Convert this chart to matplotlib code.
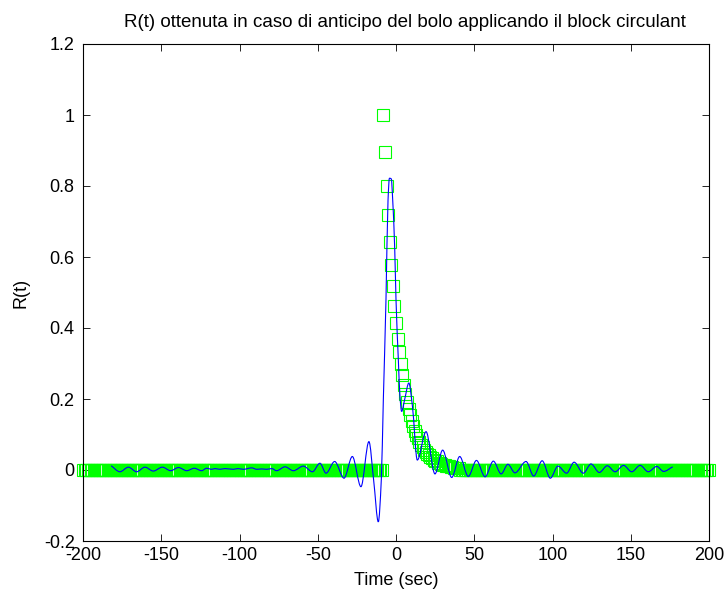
import numpy as np
import matplotlib
matplotlib.use("Agg")
import matplotlib.pyplot as plt
from matplotlib.path import Path
from matplotlib.patches import PathPatch

plt.rcParams['font.family'] = ['Liberation Sans', 'DejaVu Sans']
plt.rcParams['axes.unicode_minus'] = False

# Reference curve: zero baseline, a unit jump at t = -8 s, then exponential-looking decay (1 s sampling)
ref_t = np.arange(-200, 201, 1)
decay_start = -8
decay_vals = [1.0, 0.896, 0.80, 0.717, 0.643, 0.577, 0.517, 0.462, 0.413, 0.368,
              0.331, 0.298, 0.268, 0.239, 0.214, 0.192, 0.172, 0.154, 0.138, 0.123,
              0.110, 0.099, 0.089, 0.079, 0.071, 0.064, 0.057, 0.051, 0.046, 0.041,
              0.037, 0.033, 0.029, 0.026, 0.024, 0.021, 0.019, 0.017, 0.015, 0.014,
              0.012, 0.011, 0.010, 0.009, 0.008, 0.007, 0.006, 0.005, 0.005]
ref_v = np.zeros(ref_t.shape)
i0 = int(np.where(ref_t == decay_start)[0][0])
ref_v[i0:i0 + len(decay_vals)] = decay_vals

# Block-circulant deconvolution estimate of R(t)
est_t = [-182.0, -176.4, -171.0, -165.7, -160.4, -155.1, -149.3, -144.0, -139.0, -133.7,
         -128.9, -124.2, -121.0, -117.8, -115.7, -112.5, -109.3, -104.0, -101.0, -97.5,
         -92.2, -89.0, -85.8, -82.6, -79.4, -76.3, -70.9, -65.6, -59.2, -53.4,
         -48.6, -44.7, -39.2, -33.2, -27.9, -22.4, -17.3, -14.3, -11.3, -9.4,
         -8.1, -6.4, -5.1, -4.2, -3.0, -2.1, -0.8, 0.0, 1.5, 2.5,
         3.6, 5.6, 8.2, 10.5, 13.6, 19.2, 24.9, 29.8, 35.6, 40.7,
         46.2, 51.4, 56.9, 62.2, 67.2, 71.5, 76.0, 83.1, 88.0, 93.4,
         98.6, 103.5, 109.0, 113.8, 119.7, 124.6, 129.9, 135.0, 140.0, 145.4,
         150.6, 156.0, 161.2, 166.6, 171.0, 176.8]
est_v = [0.012, -0.005, 0.008, -0.005, 0.008, -0.003, 0.008, -0.002, 0.007, -0.002,
         0.005, -0.002, 0.005, 0.002, 0.004, 0.002, 0.004, 0.002, 0.004, 0.002,
         0.006, 0.002, 0.003, 0.002, 0.004, -0.002, 0.009, -0.002, 0.011, -0.005,
         0.019, -0.009, 0.024, -0.023, 0.038, -0.047, 0.080, -0.028, -0.146, -0.028,
         0.197, 0.48, 0.76, 0.822, 0.82, 0.76, 0.62, 0.48, 0.31, 0.21,
         0.165, 0.20, 0.245, 0.18, 0.028, 0.108, -0.011, 0.056, -0.021, 0.038,
         -0.018, 0.027, -0.019, 0.025, -0.011, 0.016, -0.008, 0.024, -0.017, 0.026,
         -0.023, 0.011, -0.009, 0.022, -0.009, 0.017, -0.007, 0.012, -0.005, 0.013,
         -0.005, 0.013, -0.005, 0.010, -0.004, 0.009]

xticks = [-200, -150, -100, -50, 0, 50, 100, 150, 200]
yticks = [-0.2, 0, 0.2, 0.4, 0.6, 0.8, 1, 1.2]
ytick_labels = ['-0.2', '0', '0.2', '0.4', '0.6', '0.8', '1', '1.2']


def smooth_path(x, y):
    """Cubic Bezier path through the points, with monotone (Fritsch-Carlson) tangents."""
    x = np.asarray(x, float)
    y = np.asarray(y, float)
    h = np.diff(x)
    d = np.diff(y) / h
    m = np.zeros_like(y)
    m[0], m[-1] = d[0], d[-1]
    for k in range(1, len(x) - 1):
        if d[k - 1] * d[k] > 0:
            w1 = 2 * h[k] + h[k - 1]
            w2 = h[k] + 2 * h[k - 1]
            m[k] = (w1 + w2) / (w1 / d[k - 1] + w2 / d[k])
    verts = [(x[0], y[0])]
    codes = [Path.MOVETO]
    for k in range(len(x) - 1):
        verts += [(x[k] + h[k] / 3, y[k] + m[k] * h[k] / 3),
                  (x[k + 1] - h[k] / 3, y[k + 1] - m[k + 1] * h[k] / 3),
                  (x[k + 1], y[k + 1])]
        codes += [Path.CURVE4] * 3
    return Path(verts, codes)


fig = plt.figure(figsize=(7.27, 5.92), dpi=100)
ax = fig.add_axes([83 / 727, 51 / 592, 626 / 727, 497 / 592])

ax.plot(ref_t, ref_v, linestyle='none', marker='s', markersize=8,
        markerfacecolor='none', markeredgecolor='#00ff00', markeredgewidth=0.8,
        clip_on=False, zorder=2)
ax.add_patch(PathPatch(smooth_path(est_t, est_v), facecolor='none',
                       edgecolor='#0000ff', linewidth=0.8, zorder=3))

ax.set_xlim(-200, 200)
ax.set_ylim(-0.2, 1.2)
ax.set_xticks(xticks)
ax.set_yticks(yticks)
ax.set_yticklabels(ytick_labels)
ax.tick_params(direction='in', length=5, width=0.6, top=True, right=True,
               labelsize=13)
ax.tick_params(axis='y', pad=6)
ax.tick_params(axis='x', pad=4)
for s in ax.spines.values():
    s.set_linewidth(0.8)

ax.set_title('R(t) ottenuta in caso di anticipo del bolo applicando il block circulant',
             fontsize=13.5, pad=12, x=0.515)
ax.set_xlabel('Time (sec)', fontsize=13, labelpad=6)
ax.set_ylabel('R(t)', fontsize=13, labelpad=10)

fig.savefig('out.png', dpi=100)
